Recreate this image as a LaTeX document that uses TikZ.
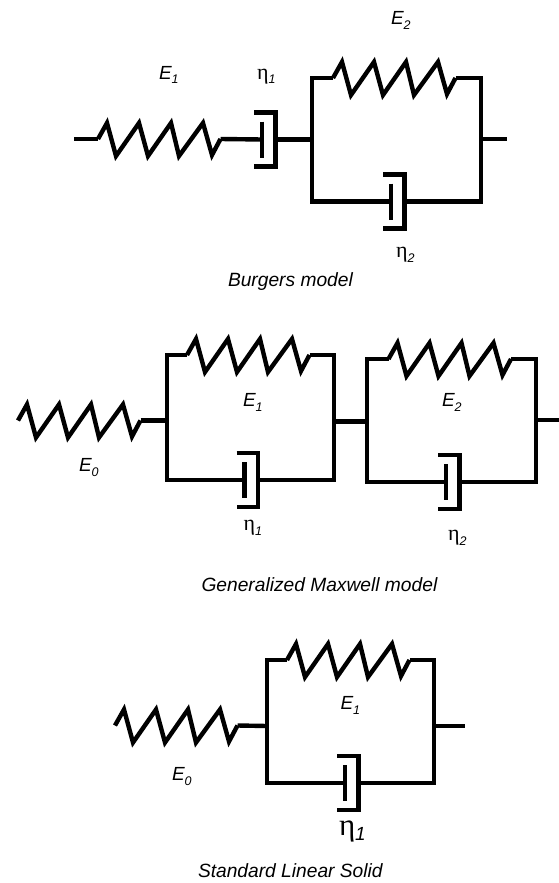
\documentclass[tikz,border=0pt]{standalone}
\usepackage{fontspec}
\setmainfont{Liberation Sans}
\newfontfamily\labfont{Liberation Sans}
\newfontfamily\etafont{Liberation Serif}
\newcommand{\sublab}[1]{\raisebox{-5pt}{\labfont\fontsize{12.5}{13}\selectfont\itshape #1}}
\newcommand{\Elab}[1]{{\fontsize{19}{20}\selectfont\itshape E\sublab{#1}}}
\newcommand{\etalab}[1]{{\fontsize{22}{23}\selectfont\etafont η\sublab{#1}}}
\newcommand{\etabig}[1]{{\fontsize{31}{33}\selectfont\etafont η{\raisebox{-5pt}{\labfont\fontsize{19}{20}\selectfont\itshape #1}}}}
\tikzset{
  wire/.style={line width=4.4pt,line join=miter,line cap=butt},
  lab/.style={anchor=base west,inner sep=0pt,outer sep=0pt},
  ttl/.style={anchor=base west,inner sep=0pt,outer sep=0pt,font=\fontsize{19.2}{21}\selectfont\itshape},
  zigspring/.pic={
    \coordinate (-in) at (0,0);
    \coordinate (-out) at (122.5,0);
    \draw[wire] (-in) -- (9,-16) -- (18,17) -- (41,-16) -- (50,17) -- (73,-16) -- (81,17) -- (105,-16) -- (114,16) -- (-out);
  },
  dashunit/.pic={
    \coordinate (-in) at (0,0);
    \coordinate (-out) at (13.5,0);
    \draw[wire] (0,-18) -- (0,18);
    \draw[wire] (-8,-27) -- (13.5,-27) -- (13.5,27) -- (-8,27);
  }
}
\begin{document}
\begin{tikzpicture}[x=1pt,y=-1pt]
\useasboundingbox (0,0) rectangle (559,883);
% Burgers
\coordinate (b0) at (74,139);
\pic (bs1) at (98,139) {zigspring};
\pic (bd1) at (262,139.5) {dashunit};
\coordinate (bj) at (312,139.5);
\coordinate (bbtl) at (312,78);
\coordinate (bbtr) at (481,78);
\coordinate (bbbr) at (481,201.5);
\coordinate (bbbl) at (312,201.5);
\coordinate (bjr) at (481,139);
\coordinate (bend) at (507,139);
\pic (bs2) at (333,78) {zigspring};
\pic (bd2) at (391,201.5) {dashunit};
\draw[wire] (b0) -- (bs1-in);
\draw[wire] (bs1-out) -- (bd1-in);
\draw[wire] (bd1-out) -- (bj);
\draw[wire] (bs2-in) -- (bbtl) -- (bbbl) -- (bd2-in);
\draw[wire] (bs2-out) -- (bbtr) -- (bbbr) -- (bd2-out);
\draw[wire] (bjr) -- (bend);
\node[lab] (lE1) at (159,79) {\Elab{1}};
\node[lab] (lE2) at (391,25) {\Elab{2}};
\node[lab] (lh1) at (257,79) {\etalab{1}};
\node[lab] (lh2) at (396,257) {\etalab{2}};
\node[ttl] (t1) at (228,286) {Burgers model};
% Generalized Maxwell
\pic (gs0) at (18,420.5) {zigspring};
\coordinate (gj1) at (167,420.5);
\coordinate (g1tl) at (167,355);
\coordinate (g1tr) at (334,355);
\coordinate (g1br) at (334,480);
\coordinate (g1bl) at (167,480);
\coordinate (g1r) at (334,421.5);
\coordinate (g2l) at (367,421.5);
\coordinate (g2tl) at (367,359);
\coordinate (g2tr) at (536,359);
\coordinate (g2br) at (536,482);
\coordinate (g2bl) at (367,482);
\coordinate (g2r) at (536,420);
\coordinate (gend) at (559,420);
\pic (gs1) at (187,355) {zigspring};
\pic (gd1) at (244.5,480) {dashunit};
\pic (gs2) at (388.5,359) {zigspring};
\pic (gd2) at (446,482) {dashunit};
\draw[wire] (gs0-out) -- (gj1);
\draw[wire] (gs1-in) -- (g1tl) -- (g1bl) -- (gd1-in);
\draw[wire] (gs1-out) -- (g1tr) -- (g1br) -- (gd1-out);
\draw[wire] (g1r) -- (g2l);
\draw[wire] (gs2-in) -- (g2tl) -- (g2bl) -- (gd2-in);
\draw[wire] (gs2-out) -- (g2tr) -- (g2br) -- (gd2-out);
\draw[wire] (g2r) -- (gend);
\node[lab] (gE0) at (79,471) {\Elab{0}};
\node[lab] (gE1) at (243,406) {\Elab{1}};
\node[lab] (gE2) at (442,406) {\Elab{2}};
\node[lab] (gh1) at (243.5,530) {\etalab{1}};
\node[lab] (gh2) at (448,540) {\etalab{2}};
\node[ttl] (t2) at (201.5,591) {Generalized Maxwell model};
% Standard Linear Solid
\pic (ss0) at (115,725.5) {zigspring};
\coordinate (sj) at (267,726);
\coordinate (stl) at (267,660);
\coordinate (str) at (434,660);
\coordinate (sbr) at (434,783);
\coordinate (sbl) at (267,783);
\coordinate (sr) at (434,726);
\coordinate (send) at (464.5,726);
\pic (ss1) at (287,660) {zigspring};
\pic (sd1) at (345,783) {dashunit};
\draw[wire] (ss0-out) -- (sj);
\draw[wire] (ss1-in) -- (stl) -- (sbl) -- (sd1-in);
\draw[wire] (ss1-out) -- (str) -- (sbr) -- (sd1-out);
\draw[wire] (sr) -- (send);
\node[lab] (sE0) at (172,780.5) {\Elab{0}};
\node[lab] (sE1) at (340.5,709) {\Elab{1}};
\node[lab] (sh1) at (339,835) {\etabig{1}};
\node[ttl] (t3) at (198,877) {Standard Linear Solid};
\end{tikzpicture}
\end{document}
